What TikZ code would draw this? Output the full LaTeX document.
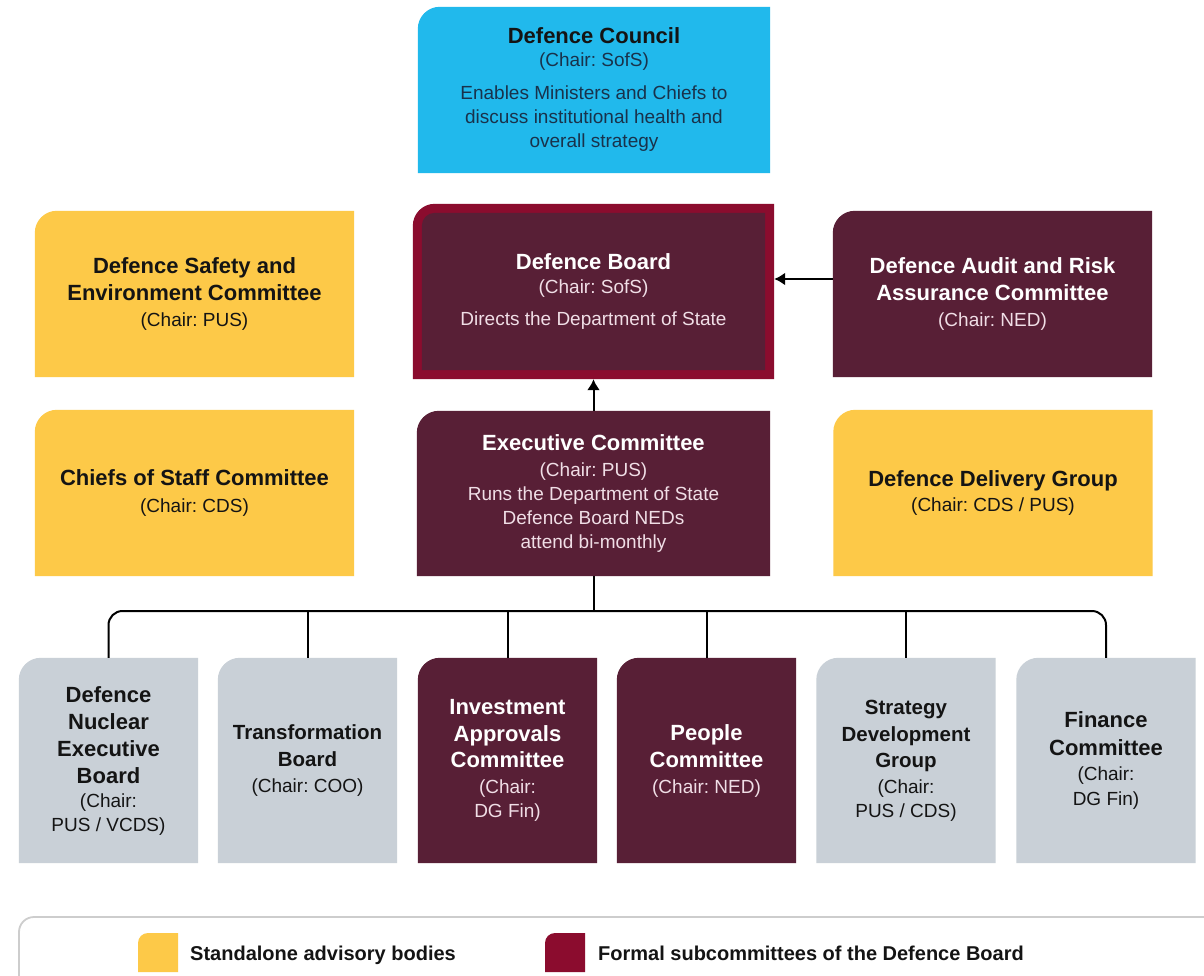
\documentclass[tikz,border=0pt]{standalone}
\usepackage{fontspec}
\setmainfont{Liberation Sans}
\usetikzlibrary{arrows.meta,backgrounds}
\frenchspacing
\definecolor{cyanc}{RGB}{33,185,236}
\definecolor{yell}{RGB}{253,201,72}
\definecolor{maroon}{RGB}{88,31,54}
\definecolor{crimson}{RGB}{139,12,46}
\definecolor{grayc}{RGB}{201,208,215}
\definecolor{pinkt}{RGB}{240,222,230}
\definecolor{navyt}{RGB}{25,50,75}
\definecolor{darkt}{RGB}{20,20,20}
\definecolor{legline}{RGB}{205,205,205}
\newcommand\tf{\fontsize{22}{24}\selectfont\bfseries}
\newcommand\tfs{\fontsize{20.5}{24}\selectfont\bfseries}
\newcommand\cardshape[3][22pt]{%
  \fill[#3] (#2.south west) -- ([yshift=-#1]#2.north west)
    arc[start angle=180,end angle=90,radius=#1] -- (#2.north east)
    -- (#2.south east) -- cycle;}
\tikzset{
  card/.style={rectangle, inner sep=0pt, align=center,
    font=\fontsize{19}{24}\selectfont},
  topcard/.style={card, minimum width=319pt, minimum height=166pt},
  botcard/.style={card, minimum width=179pt, minimum height=205pt},
  onmaroon/.style={text=pinkt},
  conn/.style={line width=2pt, draw=black},
  arr/.style={conn, -{Latex[length=11pt,width=13pt]}},
  legtext/.style={anchor=base west, inner sep=0pt, text=darkt, font=\fontsize{20}{24}\selectfont\bfseries},
}
\begin{document}
\begin{tikzpicture}[x=1pt,y=-1pt]
\useasboundingbox (0,0) rectangle (1204,976);

% top
\node[card, text=navyt, minimum width=352pt, minimum height=166pt] (council) at (594,90)
  {{\color{darkt}\tf Defence Council}\\[-1pt](Chair: SofS)\\[9pt]Enables Ministers and Chiefs to\\discuss institutional health and\\overall strategy};

\node[topcard, text=darkt] (safety) at (194.5,294)
  {{\tf Defence Safety and}\\[3pt]{\tf Environment Committee}\\[2pt](Chair: PUS)};
\node[card, onmaroon, minimum width=361pt, minimum height=175pt] (board) at (593.5,291.5)
  {{\color{white}\tf Defence Board}\\(Chair: SofS)\\[8pt]Directs the Department of State};
\node[topcard, onmaroon] (audit) at (992.5,294)
  {{\color{white}\tf Defence Audit and Risk}\\[3pt]{\color{white}\tf Assurance Committee}\\[2pt](Chair: NED)};

\node[topcard, text=darkt] (chiefs) at (194.5,493)
  {{\tf Chiefs of Staff Committee}\\[3pt](Chair: CDS)};
\node[card, onmaroon, minimum width=353pt, minimum height=165pt] (exec) at (593.5,493.5)
  {{\color{white}\tf Executive Committee}\\[2pt](Chair: PUS)\\Runs the Department of State\\Defence Board NEDs\\attend bi-monthly};
\node[topcard, text=darkt] (delivery) at (993,493)
  {{\tf Defence Delivery Group}\\[1pt](Chair: CDS / PUS)};

% bottom row
\node[botcard, text=darkt] (b1) at (108.5,760.5)
  {{\tf Defence}\\[3pt]{\tf Nuclear}\\[3pt]{\tf Executive}\\[3pt]{\tf Board}\\(Chair:\\PUS / VCDS)};
\node[botcard, text=darkt] (b2) at (307.5,760.5)
  {{\tfs Transformation}\\[3pt]{\tfs Board}\\[2pt](Chair: COO)};
\node[botcard, onmaroon] (b3) at (507.5,760.5)
  {{\color{white}\tf Investment}\\[3pt]{\color{white}\tf Approvals}\\[2pt]{\color{white}\tf Committee}\\[2pt](Chair:\\DG Fin)};
\node[botcard, onmaroon] (b4) at (706.5,760.5)
  {{\color{white}\tf People}\\[3pt]{\color{white}\tf Committee}\\[2pt](Chair: NED)};
\node[botcard, text=darkt] (b5) at (906,760.5)
  {{\tfs Strategy}\\[3pt]{\tfs Development}\\[2pt]{\tfs Group}\\[2pt](Chair:\\PUS / CDS)};
\node[botcard, text=darkt] (b6) at (1106,760.5)
  {{\tf Finance}\\[4pt]{\tf Committee}\\[1pt](Chair:\\[1pt]DG Fin)};

% legend
\node[legtext] (leg1) at (190,960) {Standalone advisory bodies};
\node[legtext] (leg2) at (598,960) {Formal subcommittees of the Defence Board};
\coordinate (sw1a) at (138,972); \coordinate (sw1b) at (178,933);
\coordinate (sw2a) at (545,972); \coordinate (sw2b) at (585,933);

\begin{scope}[on background layer]
  \fill[white] (0,0) rectangle (1204,976);
  \cardshape{council}{cyanc}
  \cardshape{safety}{yell}
  \cardshape{board}{crimson}
  \fill[maroon] ([xshift=9pt,yshift=9pt]board.south west) -- ([xshift=9pt,yshift=-22pt]board.north west)
    arc[start angle=180,end angle=90,radius=13pt] -- ([xshift=-9pt,yshift=-9pt]board.north east)
    -- ([xshift=-9pt,yshift=9pt]board.south east) -- cycle;
  \cardshape{audit}{maroon}
  \cardshape{chiefs}{yell}
  \cardshape{exec}{maroon}
  \cardshape{delivery}{yell}
  \cardshape{b1}{grayc}
  \cardshape{b2}{grayc}
  \cardshape{b3}{maroon}
  \cardshape{b4}{maroon}
  \cardshape{b5}{grayc}
  \cardshape{b6}{grayc}
  % legend frame and swatches
  \draw[legline, line width=1.8pt] (19,976) -- (19,932) arc[start angle=180,end angle=90,radius=15pt] -- (1204,917);
  \fill[yell] (sw1a) -- (sw1a |- 0,943) arc[start angle=180,end angle=90,radius=10pt] -- (sw1b) -- (sw1b |- sw1a) -- cycle;
  \fill[crimson] (sw2a) -- (sw2a |- 0,943) arc[start angle=180,end angle=90,radius=10pt] -- (sw2b) -- (sw2b |- sw2a) -- cycle;
\end{scope}

% connectors
\coordinate (busy) at (0,611);
\coordinate (ay) at (0,279);
\draw[arr] (exec.north) -- (board.south);
\draw[arr] (audit.west |- ay) -- (board.east |- ay);
\draw[conn] (exec.south) -- (exec.south |- busy);
\draw[conn, rounded corners=14pt] (b1.north) -- (b1.north |- busy) -- (b6.north |- busy) -- (b6.north);
\foreach \b in {b2,b3,b4,b5} \draw[conn] (\b.north) -- (\b.north |- busy);
\end{tikzpicture}
\end{document}
